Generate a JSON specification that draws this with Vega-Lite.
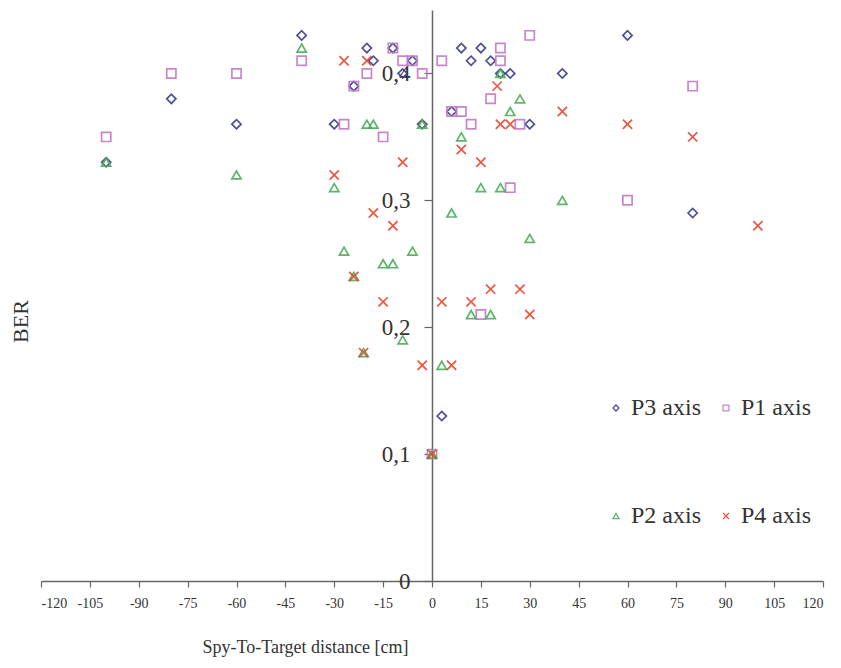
{
  "$schema": "https://vega.github.io/schema/vega-lite/v6.json",
  "width": 782,
  "height": 571,
  "autosize": {"type": "none"},
  "padding": {"left": 41, "top": 10, "right": 18, "bottom": 87},
  "background": "white",
  "config": {
    "view": {"stroke": null},
    "font": "Liberation Serif",
    "axis": {"grid": false, "labelFont": "Liberation Serif", "titleFont": "Liberation Serif", "titleFontWeight": "normal", "labelColor": "#333", "titleColor": "#333", "domainColor": "#666", "tickColor": "#666", "domainWidth": 1.5, "tickWidth": 1.2},
    "legend": {"labelFont": "Liberation Serif", "titleFont": "Liberation Serif"}
  },
  "data": {"values": [
    {"s": "P3 axis", "x": -100, "ber": 0.33},
    {"s": "P3 axis", "x": -80, "ber": 0.38},
    {"s": "P3 axis", "x": -60, "ber": 0.36},
    {"s": "P3 axis", "x": -40, "ber": 0.43},
    {"s": "P3 axis", "x": -30, "ber": 0.36},
    {"s": "P3 axis", "x": -24, "ber": 0.39},
    {"s": "P3 axis", "x": -20, "ber": 0.42},
    {"s": "P3 axis", "x": -18, "ber": 0.41},
    {"s": "P3 axis", "x": -12, "ber": 0.42},
    {"s": "P3 axis", "x": -9, "ber": 0.40},
    {"s": "P3 axis", "x": -6, "ber": 0.41},
    {"s": "P3 axis", "x": -3, "ber": 0.36},
    {"s": "P3 axis", "x": 3, "ber": 0.13},
    {"s": "P3 axis", "x": 6, "ber": 0.37},
    {"s": "P3 axis", "x": 9, "ber": 0.42},
    {"s": "P3 axis", "x": 12, "ber": 0.41},
    {"s": "P3 axis", "x": 15, "ber": 0.42},
    {"s": "P3 axis", "x": 18, "ber": 0.41},
    {"s": "P3 axis", "x": 21, "ber": 0.40},
    {"s": "P3 axis", "x": 24, "ber": 0.40},
    {"s": "P3 axis", "x": 30, "ber": 0.36},
    {"s": "P3 axis", "x": 40, "ber": 0.40},
    {"s": "P3 axis", "x": 60, "ber": 0.43},
    {"s": "P3 axis", "x": 80, "ber": 0.29},

    {"s": "P1 axis", "x": -100, "ber": 0.35},
    {"s": "P1 axis", "x": -80, "ber": 0.40},
    {"s": "P1 axis", "x": -60, "ber": 0.40},
    {"s": "P1 axis", "x": -40, "ber": 0.41},
    {"s": "P1 axis", "x": -27, "ber": 0.36},
    {"s": "P1 axis", "x": -24, "ber": 0.39},
    {"s": "P1 axis", "x": -20, "ber": 0.40},
    {"s": "P1 axis", "x": -15, "ber": 0.35},
    {"s": "P1 axis", "x": -12, "ber": 0.42},
    {"s": "P1 axis", "x": -9, "ber": 0.41},
    {"s": "P1 axis", "x": -6, "ber": 0.41},
    {"s": "P1 axis", "x": -3, "ber": 0.40},
    {"s": "P1 axis", "x": 0, "ber": 0.10},
    {"s": "P1 axis", "x": 3, "ber": 0.41},
    {"s": "P1 axis", "x": 6, "ber": 0.37},
    {"s": "P1 axis", "x": 9, "ber": 0.37},
    {"s": "P1 axis", "x": 12, "ber": 0.36},
    {"s": "P1 axis", "x": 15, "ber": 0.21},
    {"s": "P1 axis", "x": 18, "ber": 0.38},
    {"s": "P1 axis", "x": 21, "ber": 0.42},
    {"s": "P1 axis", "x": 21, "ber": 0.41},
    {"s": "P1 axis", "x": 24, "ber": 0.31},
    {"s": "P1 axis", "x": 27, "ber": 0.36},
    {"s": "P1 axis", "x": 30, "ber": 0.43},
    {"s": "P1 axis", "x": 60, "ber": 0.30},
    {"s": "P1 axis", "x": 80, "ber": 0.39},

    {"s": "P2 axis", "x": -100, "ber": 0.33},
    {"s": "P2 axis", "x": -60, "ber": 0.32},
    {"s": "P2 axis", "x": -40, "ber": 0.42},
    {"s": "P2 axis", "x": -30, "ber": 0.31},
    {"s": "P2 axis", "x": -27, "ber": 0.26},
    {"s": "P2 axis", "x": -24, "ber": 0.24},
    {"s": "P2 axis", "x": -21, "ber": 0.18},
    {"s": "P2 axis", "x": -20, "ber": 0.36},
    {"s": "P2 axis", "x": -18, "ber": 0.36},
    {"s": "P2 axis", "x": -15, "ber": 0.25},
    {"s": "P2 axis", "x": -12, "ber": 0.25},
    {"s": "P2 axis", "x": -9, "ber": 0.19},
    {"s": "P2 axis", "x": -6, "ber": 0.26},
    {"s": "P2 axis", "x": -3, "ber": 0.36},
    {"s": "P2 axis", "x": 0, "ber": 0.10},
    {"s": "P2 axis", "x": 3, "ber": 0.17},
    {"s": "P2 axis", "x": 6, "ber": 0.29},
    {"s": "P2 axis", "x": 9, "ber": 0.35},
    {"s": "P2 axis", "x": 12, "ber": 0.21},
    {"s": "P2 axis", "x": 15, "ber": 0.31},
    {"s": "P2 axis", "x": 18, "ber": 0.21},
    {"s": "P2 axis", "x": 21, "ber": 0.31},
    {"s": "P2 axis", "x": 21, "ber": 0.40},
    {"s": "P2 axis", "x": 24, "ber": 0.37},
    {"s": "P2 axis", "x": 27, "ber": 0.38},
    {"s": "P2 axis", "x": 30, "ber": 0.27},
    {"s": "P2 axis", "x": 40, "ber": 0.30},

    {"s": "P4 axis", "x": -30, "ber": 0.32},
    {"s": "P4 axis", "x": -27, "ber": 0.41},
    {"s": "P4 axis", "x": -24, "ber": 0.24},
    {"s": "P4 axis", "x": -21, "ber": 0.18},
    {"s": "P4 axis", "x": -20, "ber": 0.41},
    {"s": "P4 axis", "x": -18, "ber": 0.29},
    {"s": "P4 axis", "x": -15, "ber": 0.22},
    {"s": "P4 axis", "x": -12, "ber": 0.28},
    {"s": "P4 axis", "x": -9, "ber": 0.33},
    {"s": "P4 axis", "x": -3, "ber": 0.17},
    {"s": "P4 axis", "x": 0, "ber": 0.10},
    {"s": "P4 axis", "x": 3, "ber": 0.22},
    {"s": "P4 axis", "x": 6, "ber": 0.17},
    {"s": "P4 axis", "x": 9, "ber": 0.34},
    {"s": "P4 axis", "x": 12, "ber": 0.22},
    {"s": "P4 axis", "x": 15, "ber": 0.33},
    {"s": "P4 axis", "x": 18, "ber": 0.23},
    {"s": "P4 axis", "x": 20, "ber": 0.39},
    {"s": "P4 axis", "x": 21, "ber": 0.36},
    {"s": "P4 axis", "x": 24, "ber": 0.36},
    {"s": "P4 axis", "x": 27, "ber": 0.23},
    {"s": "P4 axis", "x": 30, "ber": 0.21},
    {"s": "P4 axis", "x": 40, "ber": 0.37},
    {"s": "P4 axis", "x": 60, "ber": 0.36},
    {"s": "P4 axis", "x": 80, "ber": 0.35},
    {"s": "P4 axis", "x": 100, "ber": 0.28}
  ]},
  "mark": {"type": "point", "filled": false, "strokeWidth": 1.7, "size": 85, "opacity": 0.9},
  "encoding": {
    "x": {
      "field": "x", "type": "quantitative",
      "scale": {"domain": [-120, 120], "nice": false, "zero": false},
      "axis": {
        "values": [-120, -105, -90, -75, -60, -45, -30, -15, 0, 15, 30, 45, 60, 75, 90, 105, 120],
        "labelExpr": "'' + datum.value",
        "labelFontSize": 14, "labelPadding": 9, "tickSize": 6,
        "title": "Spy-To-Target distance [cm]",
        "titleFontSize": 18,
        "titleX": 264, "titleY": 66, "titleAnchor": "middle", "titleAlign": "center", "titleBaseline": "middle"
      }
    },
    "y": {
      "field": "ber", "type": "quantitative",
      "scale": {"domain": [0, 0.45], "nice": false},
      "axis": {
        "values": [0, 0.1, 0.2, 0.3, 0.4],
        "labelExpr": "datum.value == 0 ? '0' : replace(format(datum.value, '.1f'), '.', ',')",
        "labelFontSize": 23, "labelPadding": 14, "tickSize": 8,
        "offset": -391,
        "title": "BER", "titleFontSize": 22,
        "titleX": -412, "titleY": 311, "titleAngle": -90, "titleAlign": "center", "titleBaseline": "middle"
      }
    },
    "color": {
      "field": "s", "type": "nominal",
      "scale": {"domain": ["P3 axis", "P1 axis", "P2 axis", "P4 axis"], "range": ["#3c3c8c", "#c27ac4", "#4cae5a", "#e8452e"]},
      "legend": {
        "title": null, "orient": "none", "legendX": 563, "legendY": 386,
        "direction": "horizontal",
        "columns": 2, "columnPadding": 12, "rowPadding": 84,
        "labelFont": "Liberation Serif", "labelFontSize": 24, "labelColor": "#333",
        "symbolSize": 35, "symbolStrokeWidth": 1.3, "labelOffset": 3
      }
    },
    "shape": {
      "field": "s", "type": "nominal",
      "scale": {"domain": ["P3 axis", "P1 axis", "P2 axis", "P4 axis"], "range": ["diamond", "square", "triangle-up", "M-1,-1L1,1M-1,1L1,-1"]}
    }
  }
}
